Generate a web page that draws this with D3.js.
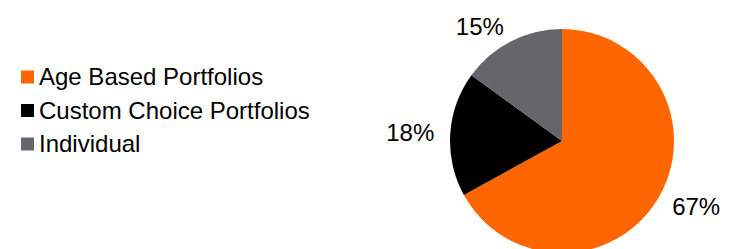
<!DOCTYPE html>
<html>
<head>
<meta charset="utf-8">
<script src="https://cdn.jsdelivr.net/npm/d3@7"></script>
<style>
  body { margin: 0; background: #fff; }
  text { font-family: "Liberation Sans", Arial, sans-serif; }
</style>
</head>
<body>
<div id="chart"></div>
<script>
// chart data
const categories = ["Age Based Portfolios", "Custom Choice Portfolios", "Individual"];
const shares = [67, 18, 15];
const colors = ["#FF6600", "#000000", "#63666A"];

const width = 734, height = 249;

const svg = d3.select("#chart")
  .append("svg")
    .attr("width", width)
    .attr("height", height);

// pie
const cx = 562, cy = 141, radius = 112;

const pie = d3.pie()
  .sort(null)
  .value(d => d);

const arc = d3.arc()
  .innerRadius(0)
  .outerRadius(radius);

const labelArc = d3.arc()
  .innerRadius(128)
  .outerRadius(128);

const arcs = pie(shares);

const g = svg.append("g")
  .attr("transform", "translate(" + cx + "," + cy + ")");

g.selectAll("path")
  .data(arcs)
  .enter()
  .append("path")
    .attr("d", arc)
    .attr("fill", (d, i) => colors[i]);

// percentage labels, placed just outside the slice
g.selectAll("text.pct")
  .data(arcs)
  .enter()
  .append("text")
    .attr("class", "pct")
    .attr("x", d => labelArc.centroid(d)[0])
    .attr("y", d => labelArc.centroid(d)[1])
    .attr("dy", "0.35em")
    .attr("text-anchor", d => ((d.startAngle + d.endAngle) / 2 > Math.PI ? "end" : "start"))
    .attr("font-size", 24)
    .attr("fill", "#000")
    .text(d => d.data + "%");

// legend
const legendY = d3.scalePoint()
  .domain(categories)
  .range([77, 144]);

const legend = svg.append("g")
  .selectAll("g")
  .data(categories)
  .enter()
  .append("g")
    .attr("transform", d => "translate(21," + legendY(d) + ")");

legend.append("rect")
  .attr("x", 0)
  .attr("y", -6.5)
  .attr("width", 13)
  .attr("height", 13)
  .attr("fill", (d, i) => colors[i]);

legend.append("text")
  .attr("x", 18)
  .attr("dy", "0.35em")
  .attr("font-size", 24)
  .attr("fill", "#000")
  .text(d => d);
</script>
</body>
</html>
